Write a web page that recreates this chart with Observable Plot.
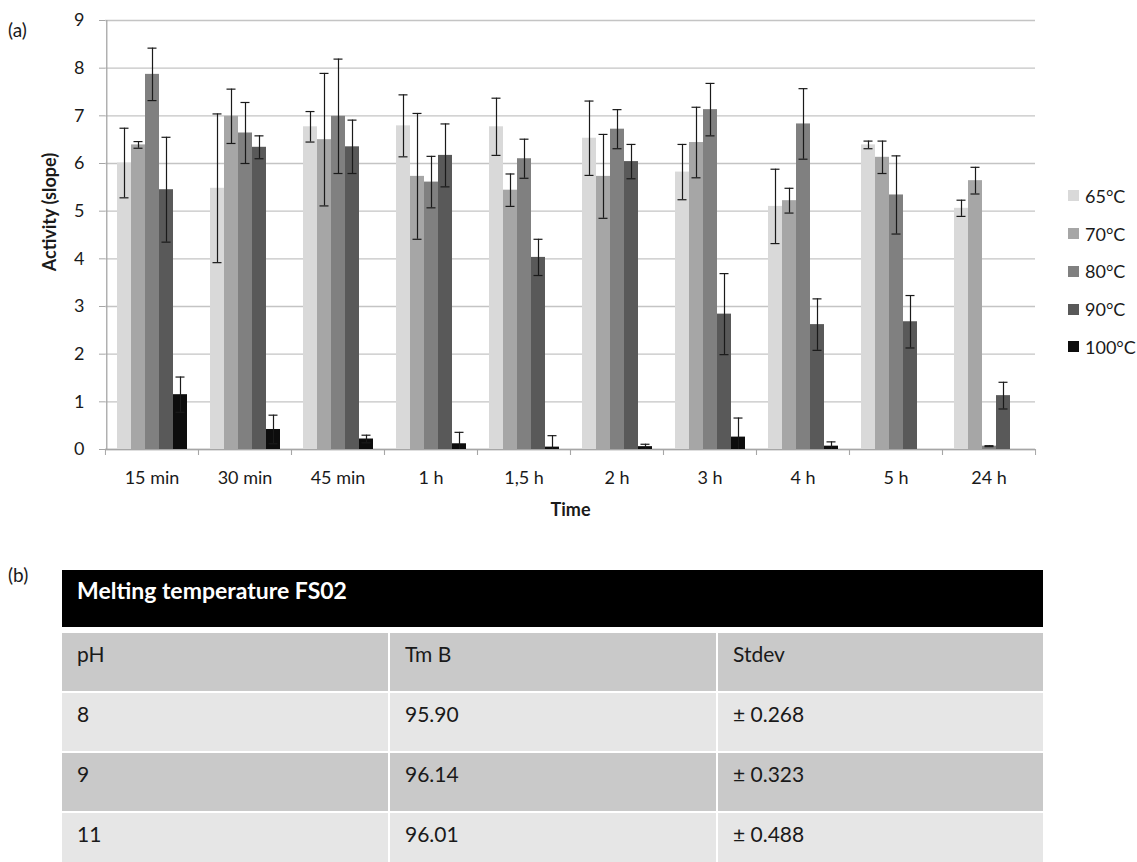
<!DOCTYPE html>
<html>
<head>
<meta charset="utf-8">
<script src="https://cdn.jsdelivr.net/npm/d3@7"></script>
<script src="https://cdn.jsdelivr.net/npm/@observablehq/plot@0.6"></script>
<style>
  html, body { margin: 0; padding: 0; background: #fff; }
  body { width: 1137px; height: 862px; position: relative; overflow: hidden; font-family: Lato, "Open Sans", sans-serif; color: #1a1a1a; }
  .panel { position: absolute; font-size: 19px; }
  #chart { position: absolute; left: 0; top: 0; }
  #legend { position: absolute; left: 1068px; top: 177px; }
  .lg { height: 37.75px; display: flex; align-items: center; font-size: 18px; }
  .sw { width: 11px; height: 11px; margin-right: 6px; }
  #table { position: absolute; left: 62px; top: 570px; width: 981px; display: grid;
           grid-template-columns: 326px 326px 325px; column-gap: 2px; row-gap: 2px; }
  .hd { grid-column: 1 / span 3; background: #000; color: #fff; font-weight: bold; font-size: 23px;
        height: 57px; box-sizing: border-box; padding: 9px 0 0 15px; line-height: 23px; margin-bottom: 4px; }
  .c { height: 58px; box-sizing: border-box; padding: 10px 0 0 15px; font-size: 21px; line-height: 21px; }
  .dk { background: #c9c9c9; }
  .lt { background: #e6e6e6; }
</style>
</head>
<body>
<div class="panel" style="left:8px; top:18px;">(a)</div>
<div id="chart"></div>
<div id="legend"></div>
<div class="panel" style="left:8px; top:563px;">(b)</div>
<div id="table"></div>
<script>
// ---- data ----
const times = ["15 min", "30 min", "45 min", "1 h", "1,5 h", "2 h", "3 h", "4 h", "5 h", "24 h"];
const temps = ["65°C", "70°C", "80°C", "90°C", "100°C"];
const greys = ["#d9d9d9", "#a6a6a6", "#808080", "#595959", "#0d0d0d"];

const act65  = [6.01, 5.48, 6.77, 6.79, 6.77, 6.53, 5.82, 5.10, 6.39, 5.06];
const err65  = [0.73, 1.56, 0.32, 0.65, 0.60, 0.78, 0.58, 0.78, 0.08, 0.17];
const act70  = [6.39, 6.99, 6.50, 5.73, 5.44, 5.73, 6.44, 5.22, 6.13, 5.64];
const err70  = [0.07, 0.57, 1.39, 1.32, 0.34, 0.88, 0.74, 0.26, 0.34, 0.28];
const act80  = [7.87, 6.64, 6.99, 5.61, 6.10, 6.72, 7.13, 6.83, 5.34, 0.07];
const err80  = [0.55, 0.64, 1.20, 0.54, 0.41, 0.41, 0.55, 0.74, 0.82, 0.01];
const act90  = [5.45, 6.34, 6.35, 6.17, 4.03, 6.04, 2.84, 2.62, 2.68, 1.13];
const err90  = [1.10, 0.24, 0.56, 0.66, 0.38, 0.36, 0.85, 0.54, 0.55, 0.28];
const act100 = [1.15, 0.42, 0.22, 0.12, 0.05, 0.06, 0.26, 0.07, null, null];
const err100 = [0.37, 0.30, 0.08, 0.24, 0.24, 0.05, 0.40, 0.09, null, null];

const yTicks = [0, 1, 2, 3, 4, 5, 6, 7, 8, 9];
const yTitle = "Activity (slope)";
const xTitle = "Time";

const tableTitle = "Melting temperature FS02";
const tableHeader = ["pH", "Tm B", "Stdev"];
const phValues = ["8", "9", "11"];
const tmValues = ["95.90", "96.14", "96.01"];
const sdValues = ["± 0.268", "± 0.323", "± 0.488"];

// ---- build rows ----
const seriesActs = [act65, act70, act80, act90, act100];
const seriesErrs = [err65, err70, err80, err90, err100];
const rows = [];
temps.forEach((t, j) => {
  times.forEach((tm, i) => {
    const v = seriesActs[j][i];
    if (v == null) return;
    const e = seriesErrs[j][i];
    rows.push({time: tm, temp: t, value: v, lo: v - e, hi: v + e});
  });
});

// ---- layout ----
const W = 1137, H = 530, ML = 104, MR = 102, MT = 20, MB = 81;
const step = (W - ML - MR) / times.length;
const xPadOuter = 0.73;
const barStep = step / (temps.length + 2 * xPadOuter);
const edgeShift = (xPadOuter + 0.5) * barStep;
const axisGrey = "#a6a6a6";

const chart = Plot.plot({
  width: W, height: H,
  marginLeft: ML, marginRight: MR, marginTop: MT, marginBottom: MB,
  style: {fontFamily: "Lato, sans-serif", fontSize: "18px", color: "#1a1a1a", background: "transparent"},
  fx: {domain: times, padding: 0, label: null},
  x: {domain: temps, paddingInner: 0, paddingOuter: xPadOuter, axis: null},
  y: {domain: [0, 9], axis: null},
  color: {domain: temps, range: greys},
  marks: [
    Plot.gridY(yTicks, {stroke: "#c4c4c4", strokeOpacity: 1, strokeWidth: 1.3}),
    Plot.ruleY([0], {stroke: axisGrey, strokeWidth: 1.3}),
    Plot.barY(rows, {fx: "time", x: "temp", y: "value", fill: "temp"}),
    Plot.ruleX(rows, {fx: "time", x: "temp", y1: "lo", y2: "hi", stroke: "#1a1a1a", strokeWidth: 1.2, clip: true}),
    Plot.tickY(rows, {fx: "time", x: "temp", y: "hi", stroke: "#1a1a1a", strokeWidth: 1.2, insetLeft: 2.5, insetRight: 2.5, clip: true}),
    Plot.tickY(rows, {fx: "time", x: "temp", y: "lo", stroke: "#1a1a1a", strokeWidth: 1.2, insetLeft: 2.5, insetRight: 2.5, clip: true}),
    // y axis line
    Plot.ruleX([{time: times[0], temp: temps[0]}], {fx: "time", x: "temp", y1: yTicks[0], y2: yTicks[yTicks.length - 1], dx: -edgeShift, stroke: axisGrey, strokeWidth: 1.3}),
    Plot.axisY(yTicks, {tickSize: 6, tickPadding: 15, stroke: axisGrey, label: null}),
    // y title (first facet only)
    Plot.text([{time: times[0], label: yTitle}], {fx: "time", text: "label", frameAnchor: "left", textAnchor: "middle", rotate: -90, dx: -55, dy: -23, fontWeight: "bold", fontSize: 18}),
    Plot.axisFx({anchor: "bottom", ticks: [], tickSize: 0, label: xTitle, labelArrow: "none", labelAnchor: "center", labelOffset: 66, fontWeight: "bold"}),
    Plot.axisFx({anchor: "bottom", tickSize: 0, tickPadding: 22, label: null}),
    Plot.axisFx({anchor: "bottom", tickSize: 6, text: null, label: null, dx: -step / 2, stroke: axisGrey}),
    Plot.axisFx([times[times.length - 1]], {anchor: "bottom", tickSize: 6, text: null, label: null, dx: step / 2, stroke: axisGrey})
  ]
});
document.getElementById("chart").appendChild(chart);

// ---- legend ----
const legend = document.getElementById("legend");
temps.forEach((t, j) => {
  const row = document.createElement("div");
  row.className = "lg";
  row.innerHTML = `<div class="sw" style="background:${greys[j]}"></div><span>${t}</span>`;
  legend.appendChild(row);
});

// ---- table ----
const table = document.getElementById("table");
const hd = document.createElement("div");
hd.className = "hd";
hd.textContent = tableTitle;
table.appendChild(hd);
const bodyRows = [tableHeader].concat(phValues.map((p, i) => [p, tmValues[i], sdValues[i]]));
bodyRows.forEach((r, k) => {
  r.forEach(txt => {
    const c = document.createElement("div");
    c.className = "c " + (k % 2 === 0 ? "dk" : "lt");
    c.textContent = txt;
    table.appendChild(c);
  });
});
</script>
</body>
</html>
